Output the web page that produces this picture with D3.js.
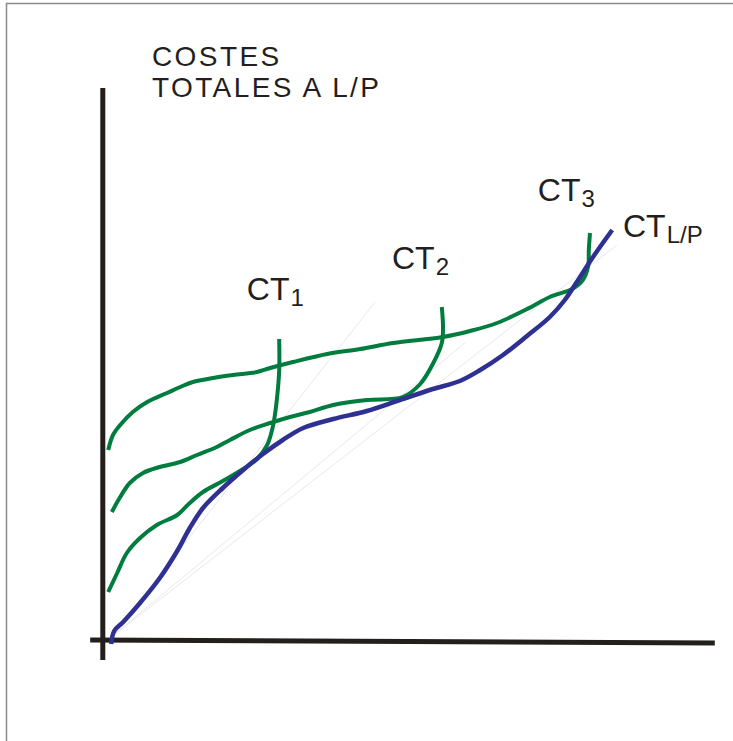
<!DOCTYPE html>
<html>
<head>
<meta charset="utf-8">
<script src="https://cdn.jsdelivr.net/npm/d3@7"></script>
<style>
  body { margin: 0; background: #fff; }
  text { font-family: "Liberation Sans", Arial, sans-serif; fill: #231f20; }
</style>
</head>
<body>
<svg width="733" height="741"></svg>
<script>
// long-run total cost envelope (blue)
let ctLP = [
  [0.2, -1.2], [0.7, 1.4], [2.2, 3.2], [5, 7], [8.3, 12], [11.2, 17.4], [13.3, 22],
  [15.5, 26], [18.8, 30], [22.2, 33.6], [25.5, 36.8], [28.8, 39.6], [32.2, 42],
  [37.2, 43.8], [42.8, 45.4], [48.3, 47.6], [53.8, 49.8], [58.3, 51.4], [61.7, 53.6],
  [65.5, 56.6], [69.5, 60.4], [73.3, 64.2], [75.8, 67.6], [77.8, 71.2], [80.5, 76.2],
  [83.7, 81.6]
];

// short-run total cost curves (green)
let ct1 = [
  [-0.3, 9.2], [1.2, 13], [2.8, 17], [5, 20], [7.8, 22.6], [11.2, 24.6], [13.3, 27],
  [15.5, 29.2], [18.8, 31.4], [22.2, 33.8], [24.5, 35.8], [26.2, 38.6], [27.2, 42.6],
  [27.8, 47.6], [28.2, 53.6], [28.2, 59.8]
];
let ct2 = [
  [0.3, 25.2], [1.7, 28.2], [3.3, 31], [5.5, 33], [8.3, 34.2], [11.7, 35.2], [14.5, 36.6],
  [17.8, 38.2], [20, 39.6], [23.3, 41.6], [26.7, 43], [30, 44.2], [33.3, 45.2],
  [37.2, 46.6], [42.8, 47.6], [48.8, 48.2], [51.7, 50.8], [53.8, 54.8], [55.3, 59],
  [55.5, 62.2], [55.3, 66.2]
];
let ct3 = [
  [-0.3, 37.6], [0.5, 40.6], [1.7, 42.6], [3.8, 45.2], [6.2, 47.2], [9.5, 49],
  [11.7, 50.2], [13.8, 51.2], [17.2, 52], [20.5, 52.6], [24.5, 53.2], [26.7, 54],
  [30.5, 55.2], [36.2, 56.8], [41.7, 57.8], [47.2, 59], [55.5, 60.2], [60, 61.4],
  [64.5, 63], [69.5, 65.8], [73.3, 68.2], [77, 69.8], [78.8, 71.6], [79.7, 74.4],
  [79.8, 77.6], [80, 81]
];

// faint guide rays from the origin
let rayEnds = [[44.2, 67.2], [59.3, 59.2], [84.5, 78.6]];

// curve labels: main text, subscript, anchor point
let labels = [
  {main: "CT", sub: "1", x: 22.8, y: 67.6},
  {main: "CT", sub: "2", x: 47, y: 73.8},
  {main: "CT", sub: "3", x: 71.3, y: 87.4},
  {main: "CT", sub: "L/P", x: 85.5, y: 80.2}
];
let titleLines = ["COSTES", "TOTALES A L/P"];

let svg = d3.select("svg");

let x = d3.scaleLinear().domain([0, 100]).range([110, 710]);
let y = d3.scaleLinear().domain([0, 100]).range([638, 138]);

// frame
svg.append("path")
    .attr("d", "M6.5,741 L6.5,3.5 L733,3.5")
    .attr("fill", "none")
    .attr("stroke", "#8a8a8a")
    .attr("stroke-width", 1.5);

// rays
svg.selectAll(".ray")
    .data(rayEnds)
    .enter()
    .append("line")
    .attr("class", "ray")
    .attr("x1", x(0)).attr("y1", y(0))
    .attr("x2", d => x(d[0])).attr("y2", d => y(d[1]))
    .attr("stroke", "#e2e2e2")
    .attr("stroke-width", 0.8);

// axes
svg.append("line")
    .attr("x1", x(-1.2)).attr("y1", y(110))
    .attr("x2", x(-1.2)).attr("y2", y(-4.4))
    .attr("stroke", "#231f1c").attr("stroke-width", 5);
svg.append("line")
    .attr("x1", x(-3.3)).attr("y1", y(-0.4))
    .attr("x2", x(100.8)).attr("y2", y(-1))
    .attr("stroke", "#231f1c").attr("stroke-width", 5);

let line = d3.line()
    .x(d => x(d[0]))
    .y(d => y(d[1]))
    .curve(d3.curveCatmullRom.alpha(0.5));

[ct1, ct2, ct3].forEach(function(c) {
    svg.append("path")
        .attr("d", line(c))
        .attr("fill", "none")
        .attr("stroke", "#007c3e")
        .attr("stroke-width", 4)
        .attr("stroke-linejoin", "round");
});

svg.append("path")
    .attr("d", line(ctLP))
    .attr("fill", "none")
    .attr("stroke", "#2e3192")
    .attr("stroke-width", 4.5)
    .attr("stroke-linejoin", "round");

// title
svg.selectAll(".title")
    .data(titleLines)
    .enter()
    .append("text")
    .attr("class", "title")
    .attr("x", 152)
    .attr("y", (d, i) => 66 + i * 31)
    .attr("font-size", 28)
    .attr("letter-spacing", 2.4)
    .text(d => d);

// curve labels
let lab = svg.selectAll(".lab")
    .data(labels)
    .enter()
    .append("text")
    .attr("class", "lab")
    .attr("x", d => x(d.x))
    .attr("y", d => y(d.y))
    .attr("font-size", 32);
lab.append("tspan").text(d => d.main);
lab.append("tspan")
    .attr("dx", 1)
    .attr("dy", 6)
    .attr("font-size", 24)
    .text(d => d.sub);
</script>
</body>
</html>
